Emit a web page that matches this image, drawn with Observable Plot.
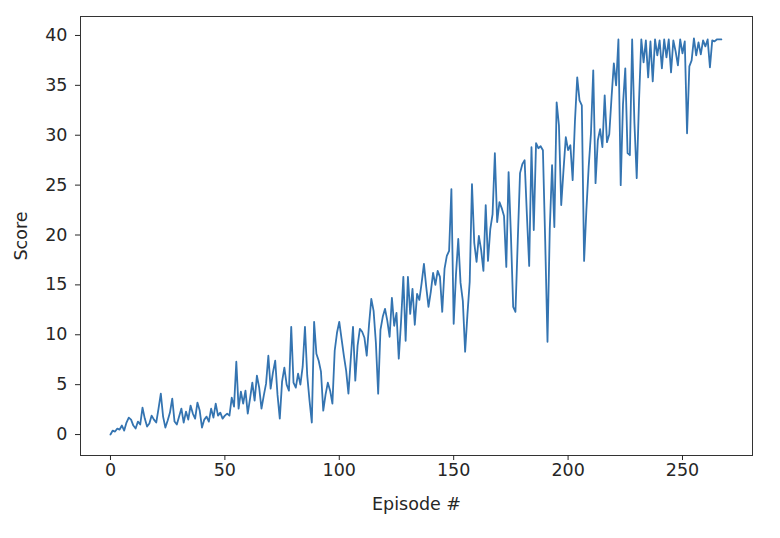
<!DOCTYPE html>
<html>
<head>
<meta charset="utf-8">
<script src="https://cdn.jsdelivr.net/npm/d3@7"></script>
<script src="https://cdn.jsdelivr.net/npm/@observablehq/plot@0.6"></script>
<style>
  html, body { margin: 0; padding: 0; background: #fff; }
  #chart svg { display: block; }
  #chart svg text { font-size: 17.5px; fill: #262626; }
</style>
</head>
<body>
<div id="chart"></div>
<script>
// Episode scores (index = episode #)
const scores = [
  0.0, 0.4, 0.3, 0.6, 0.5, 0.9, 0.4, 1.2, 1.7, 1.5,
  0.9, 0.6, 1.3, 1.0, 2.7, 1.6, 0.8, 1.1, 1.9, 1.5,
  1.2, 2.6, 4.1, 1.8, 0.7, 1.4, 2.2, 3.6, 1.3, 1.0,
  1.8, 2.6, 1.2, 2.3, 1.5, 2.9, 2.1, 1.6, 3.2, 2.4,
  0.7, 1.5, 1.8, 1.3, 2.6, 1.7, 3.1, 1.9, 2.2, 1.6,
  1.9, 2.1, 1.9, 3.7, 2.8, 7.3, 2.6, 4.3, 3.1, 4.4,
  2.1, 3.6, 5.2, 3.4, 5.9, 4.7, 2.6, 3.9, 5.1, 7.9,
  4.6, 6.2, 7.4, 4.0, 1.6, 5.3, 6.7, 5.0, 4.4, 10.8,
  5.2, 4.7, 6.1, 5.0, 6.8, 10.8, 5.9, 3.4, 1.2, 11.3,
  8.1, 7.4, 6.3, 2.4, 4.0, 5.2, 4.4, 3.1, 8.4, 10.2,
  11.3, 9.6, 7.9, 6.4, 4.1, 7.5, 10.8, 5.4, 8.9, 10.6,
  10.3, 9.7, 7.9, 11.0, 13.6, 12.4, 9.2, 4.1, 10.5, 11.8,
  12.6, 11.4, 9.8, 13.7, 10.9, 12.2, 7.6, 11.3, 15.8, 9.4,
  15.8, 12.1, 14.6, 11.0, 14.1, 13.5, 15.2, 17.1, 14.8, 12.8,
  14.3, 16.2, 15.0, 16.4, 15.8, 12.3, 16.6, 17.9, 18.4, 24.6,
  11.1, 16.0, 19.6, 15.2, 13.4, 8.3, 12.0, 15.3, 25.1, 19.2,
  17.3, 19.9, 18.5, 16.4, 23.0, 17.4, 20.6, 22.1, 28.2, 21.3,
  23.3, 22.7, 21.9, 16.8, 26.3, 20.1, 12.8, 12.3, 19.4, 26.2,
  27.1, 27.5, 22.0, 16.9, 28.8, 20.5, 29.2, 28.7, 28.9, 28.5,
  19.4, 9.3, 20.6, 27.0, 20.8, 33.3, 31.0, 23.0, 26.5, 29.8,
  28.5, 29.0, 25.5, 31.4, 35.8, 33.5, 33.0, 17.4, 22.5, 26.8,
  30.2, 36.5, 25.2, 29.5, 30.6, 28.8, 34.0, 29.3, 30.1, 33.8,
  37.2, 35.0, 39.6, 25.0, 33.1, 36.7, 28.2, 28.0, 39.6, 31.2,
  25.7, 33.4, 39.6, 37.3, 39.5, 35.8, 39.4, 35.4, 39.6, 38.0,
  39.5, 36.7, 39.6, 37.8, 39.6, 36.3, 39.5, 38.4, 37.0, 39.6,
  38.2, 39.4, 30.2, 36.9, 37.5, 39.7, 38.0, 39.3, 38.1, 39.5,
  38.9, 39.6, 36.8, 39.5, 39.4, 39.6, 39.6, 39.6
];
const xTicks = [0, 50, 100, 150, 200, 250];
const yTicks = [0, 5, 10, 15, 20, 25, 30, 35, 40];
const xLabel = "Episode #";
const yLabel = "Score";

const data = scores.map((s, i) => ({episode: i, score: s}));

const chart = Plot.plot({
  width: 780,
  height: 538,
  marginLeft: 80,
  marginRight: 28,
  marginTop: 16,
  marginBottom: 83,
  style: {fontFamily: "DejaVu Sans", fontSize: "17.5px", color: "#262626", background: "#fff"},
  x: {domain: [-13.1, 280.6]},
  y: {domain: [-2.1, 41.9]},
  marks: [
    Plot.frame({stroke: "#333", strokeWidth: 1}),
    Plot.axisX({ticks: xTicks, tickSize: 5, tickPadding: 3, tickFormat: d => String(d),
      label: xLabel, labelAnchor: "center", labelArrow: "none", labelOffset: 54, fontSize: 17.5}),
    Plot.axisY({ticks: yTicks, tickSize: 5, tickPadding: 8, tickFormat: d => String(d),
      label: yLabel, labelAnchor: "center", labelArrow: "none", labelOffset: 66, fontSize: 17.5}),
    Plot.line(data, {x: "episode", y: "score", stroke: "#3474b1", strokeWidth: 1.8})
  ]
});
document.getElementById("chart").appendChild(chart);
</script>
</body>
</html>
